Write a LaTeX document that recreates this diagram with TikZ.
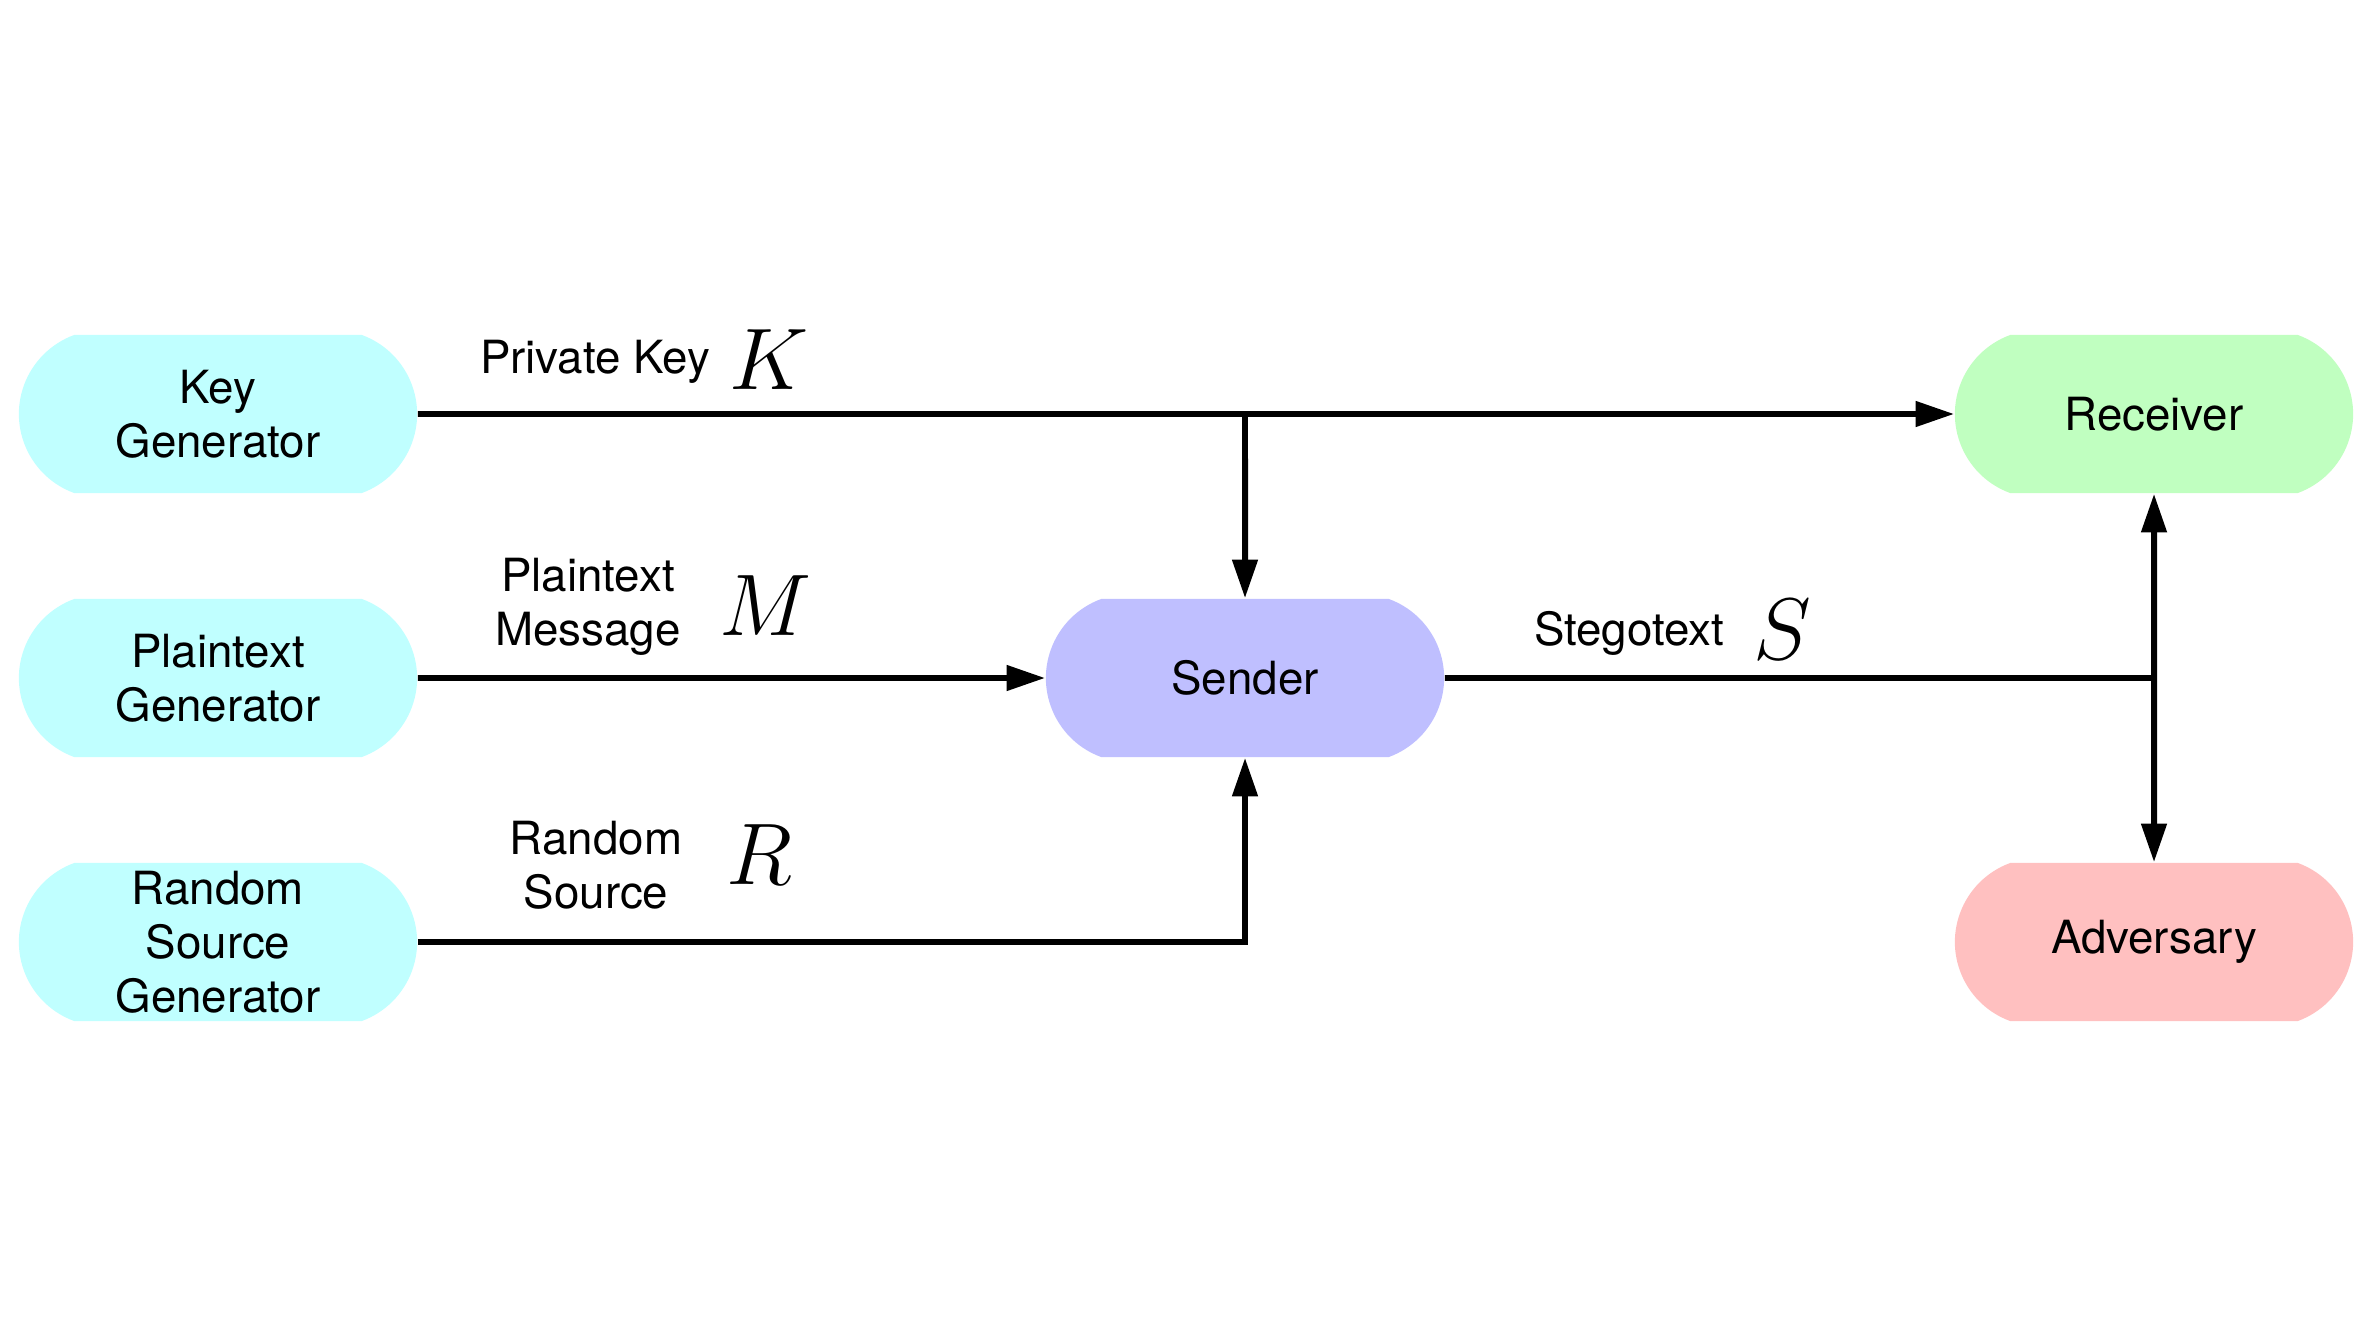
\documentclass[tikz,border=0pt]{standalone}
\usepackage{fontspec}
\setmainfont{TeX Gyre Heros}
\usepackage{tikz}
\usetikzlibrary{calc,shapes.misc,arrows.meta}
\definecolor{genblue}{RGB}{192,255,255}
\definecolor{sendblue}{RGB}{191,191,255}
\definecolor{recvgreen}{RGB}{192,255,192}
\definecolor{advred}{RGB}{255,192,192}
\newcommand{\bigvar}[1]{{\fontsize{24}{28}\selectfont$#1$}}

\begin{document}
\begin{tikzpicture}[x=0.01cm,y=-0.01cm,
    party/.style={rounded rectangle, rounded rectangle arc length=140,
        minimum width=3.98cm, minimum height=1.58cm, inner sep=0pt,
        align=center, font=\fontsize{13}{15.4}\selectfont},
    lbl/.style={align=center, font=\fontsize{13}{15.4}\selectfont},
    flow/.style={line width=1.7pt},
    >={Triangle[length=11pt,width=7pt]}]
    \useasboundingbox (0,0) rectangle (2365,1330);
    \node[party, fill=genblue] (kgen) at (218,414) {Key\\Generator};
    \node[party, fill=genblue] (pgen) at (218,678) {Plaintext\\Generator};
    \node[party, fill=genblue] (rgen) at (218,942) {Random\\Source\\Generator};
    \node[party, fill=sendblue] (sender) at (1245,678) {Sender};
    \node[party, fill=recvgreen] (recv) at (2154,414) {Receiver};
    \node[party, fill=advred] (adv) at (2154,942) {Adversary};
    \coordinate (kbranch) at (kgen -| sender);
    \coordinate (sjoin) at (sender -| recv);
    \draw[flow,->] (kgen) -- (recv);
    \draw[flow,->] (kbranch) -- (sender);
    \draw[flow,->] (pgen) -- (sender);
    \draw[flow,->] (rgen) -| (sender);
    \draw[flow] (sender) -- (sjoin);
    \draw[flow,<->] (recv) -- (adv);
    \node[lbl] (klbl) at (595,362) {Private Key};
    \node (kvar) at (769,360) {\bigvar{K}};
    \node[lbl] (mlbl) at (588,607) {Plaintext\\Message};
    \node (mvar) at (766,606) {\bigvar{M}};
    \node[lbl] (rlbl) at (596,865) {Random\\Source};
    \node (rvar) at (759,855) {\bigvar{R}};
    \node[lbl] (slbl) at (1629,633) {Stegotext};
    \node (svar) at (1782,630) {\bigvar{S}};
\end{tikzpicture}
\end{document}
